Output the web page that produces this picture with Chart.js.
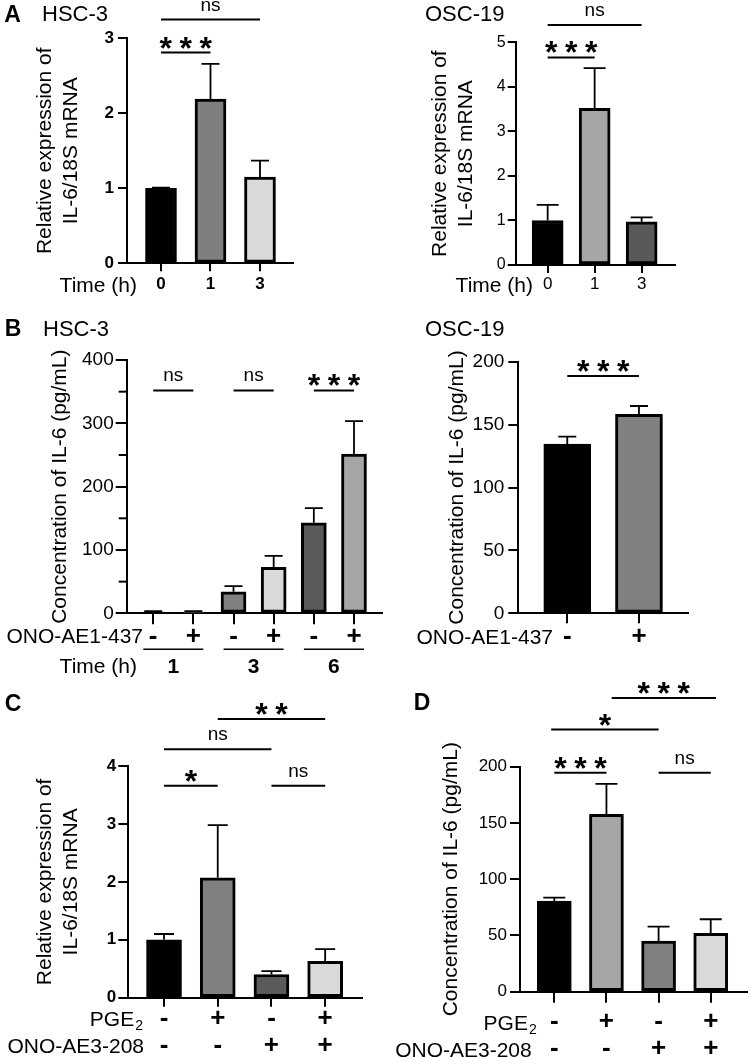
<!DOCTYPE html>
<html>
<head>
<meta charset="utf-8">
<script src="https://cdn.jsdelivr.net/npm/chart.js@4.4.0/dist/chart.umd.min.js"></script>
<style>
  html, body { margin: 0; padding: 0; background: #fff; }
  #fig { position: relative; width: 749px; height: 1057px; overflow: hidden; }
  #fig canvas { position: absolute; left: 0; top: 0; }
</style>
</head>
<body>
<div id="fig"></div>
<script>
// ---- data ----
// A: IL-6 mRNA after PGE2, time course
const timeLabelsA = ['0', '1', '3'];
const hscMrnaMean = [1.0, 2.19, 1.15];
const hscMrnaSd = [0.01, 0.47, 0.22];
const oscMrnaMean = [1.0, 3.52, 0.97];
const oscMrnaSd = [0.35, 0.9, 0.1];

// B: IL-6 protein with / without ONO-AE1-437
const ono437Labels = ['-', '+', '-', '+', '-', '+'];
const timeGroupsB = ['1', '3', '6'];
const hscElisaMean = [2, 2, 34, 72.6, 143, 251.6];
const hscElisaSd = [1.5, 1.5, 9, 18, 23, 52];
const oscOnoLabels = ['-', '+'];
const oscElisaMean = [134.6, 158.2];
const oscElisaSd = [5.8, 6.6];

// C, D: PGE2 / ONO-AE3-208
const pgeRow = ['-', '+', '-', '+'];
const ono208Row = ['-', '-', '+', '+'];
const cMrnaMean = [1.0, 2.07, 0.40, 0.63];
const cMrnaSd = [0.10, 0.91, 0.06, 0.21];
const dElisaMean = [80.6, 157.7, 45.1, 51.9];
const dElisaSd = [3, 27, 12.7, 12.5];

// significance brackets: [from bar, to bar, y value, label]
const sigAHsc = [[0, 2, 3.25, 'ns'], [0, 1, 2.81, '***']];
const sigAOsc = [[0, 2, 5.39, 'ns'], [0, 1, 4.66, '***']];
const sigBHsc = [[0, 1, 352, 'ns'], [2, 3, 352, 'ns'], [4, 5, 352, '***']];
const sigBOsc = [[0, 1, 188.6, '***']];
const sigC = [[0, 1, 3.66, '*'], [2, 3, 3.66, 'ns'], [0, 2, 4.29, 'ns'], [1, 3, 4.81, '**']];
const sigD = [[0, 1, 194.7, '***'], [2, 3, 194.7, 'ns'], [-0.06, 2, 233, '*'], [1.1, 3.1, 261, '***']];

const W = 749, H = 1057;
const FONT = '"Liberation Sans", Arial, sans-serif';
Chart.defaults.font.family = FONT;
Chart.defaults.color = '#000';

const extras = {
  id: 'extras',
  afterDatasetsDraw(chart, args, o) {
    const { ctx, scales: { y } } = chart;
    const ds = chart.data.datasets[0];
    ctx.save();
    ctx.strokeStyle = '#000';
    ctx.lineWidth = 1.8;
    chart.getDatasetMeta(0).data.forEach((bar, i) => {
      const top = y.getPixelForValue(ds.data[i].y + o.sd[i]);
      ctx.beginPath();
      ctx.moveTo(bar.x, bar.y);
      ctx.lineTo(bar.x, top);
      ctx.moveTo(bar.x - o.cap / 2, top);
      ctx.lineTo(bar.x + o.cap / 2, top);
      ctx.stroke();
    });
    ctx.restore();
  },
  afterDraw(chart, args, o) {
    const { ctx, chartArea, scales: { x, y } } = chart;
    ctx.save();
    ctx.fillStyle = '#000';
    ctx.strokeStyle = '#000';
    ctx.lineWidth = 2;

    (o.minor || []).forEach(v => {
      const py = y.getPixelForValue(v);
      ctx.beginPath();
      ctx.moveTo(chartArea.left - 8, py);
      ctx.lineTo(chartArea.left, py);
      ctx.stroke();
    });

    (o.sig || []).forEach(([a, b, at, label]) => {
      const py = y.getPixelForValue(at);
      const x1 = x.getPixelForValue(a), x2 = x.getPixelForValue(b);
      ctx.lineWidth = 2;
      ctx.beginPath();
      ctx.moveTo(x1, py);
      ctx.lineTo(x2, py);
      ctx.stroke();
      const cx = (x1 + x2) / 2;
      ctx.textAlign = 'center';
      if (label === 'ns') {
        ctx.font = '19px ' + FONT;
        ctx.fillText('ns', cx, py - 14 + 5);
      } else {
        ctx.font = 'bold 32px ' + FONT;
        const k = label.length;
        for (let j = 0; j < k; j++) {
          ctx.fillText('*', cx + (j - (k - 1) / 2) * 20, py - 12 + 18);
        }
      }
    });

    if (o.groups) {
      o.groups.labels.forEach((lab, g) => {
        const cx = (x.getPixelForValue(2 * g) + x.getPixelForValue(2 * g + 1)) / 2;
        ctx.lineWidth = 1.5;
        ctx.beginPath();
        ctx.moveTo(cx - 30, o.groups.lineY);
        ctx.lineTo(cx + 30, o.groups.lineY);
        ctx.stroke();
        ctx.font = 'bold 21px ' + FONT;
        ctx.textAlign = 'center';
        ctx.fillText(lab, cx, o.groups.textY);
      });
    }

    (o.texts || []).forEach(t => {
      let xx = t.x;
      if (t.sub) {
        ctx.font = '14px ' + FONT;
        const w = ctx.measureText(t.sub).width;
        ctx.textAlign = 'left';
        ctx.fillText(t.sub, t.x - w, t.y + 4);
        xx = t.x - w - 1;
      }
      ctx.font = t.font;
      ctx.textAlign = t.align || 'left';
      ctx.fillText(t.text, xx, t.y);
    });
    ctx.restore();
  }
};

function makePanel(p) {
  const canvas = document.createElement('canvas');
  canvas.width = W;
  canvas.height = H;
  document.getElementById('fig').appendChild(canvas);
  const a = p.area;
  const n = p.means.length;
  const titleLine = 21 * p.titleLh;
  return new Chart(canvas, {
    type: 'bar',
    data: {
      datasets: [{
        data: p.means.map((v, i) => ({ x: i, y: v })),
        backgroundColor: p.colors,
        borderColor: '#000',
        borderWidth: 3,
        borderSkipped: false,
        barThickness: p.barW
      }]
    },
    options: {
      responsive: false,
      animation: false,
      devicePixelRatio: 1,
      layout: { padding: { left: p.titleX - titleLine / 2, top: a.top, right: W - a.right, bottom: 0 } },
      plugins: {
        legend: { display: false },
        tooltip: { enabled: false },
        extras: { sd: p.sd, cap: p.cap, sig: p.sig, minor: p.minor, groups: p.groups, texts: p.texts }
      },
      scales: {
        x: {
          type: 'linear',
          bounds: 'data',
          offset: false,
          min: -p.xPad[0],
          max: n - 1 + p.xPad[1],
          grid: { offset: false, drawOnChartArea: false, color: '#000', lineWidth: 2, tickLength: p.xTick },
          border: { color: '#000', width: 2 },
          ticks: {
            autoSkip: false, maxRotation: 0, minRotation: 0,
            padding: p.xPadTxt,
            font: p.xFont,
            color: '#000',
            callback: (v, i) => p.labels[i]
          },
          afterBuildTicks: s => { s.ticks = p.means.map((_, i) => ({ value: i })); },
          afterFit: s => { s.height = H - a.bottom; }
        },
        y: {
          min: 0,
          max: p.yMax,
          bounds: 'data',
          grid: { drawOnChartArea: false, color: '#000', lineWidth: 2, tickLength: p.yTick },
          border: { color: '#000', width: 2 },
          ticks: { stepSize: p.yStep, padding: p.yPadTxt, font: p.yFont, color: '#000' },
          title: {
            display: true,
            text: p.yTitle,
            color: '#000',
            font: { size: 21, lineHeight: p.titleLh },
            padding: { top: 0, bottom: 0 }
          },
          afterFit: s => { s.width = a.left - (p.titleX - titleLine / 2); }
        }
      }
    },
    plugins: [extras]
  });
}

const mrnaTitle = ['Relative expression of', 'IL-6/18S mRNA'];
const elisaTitle = 'Concentration of IL-6 (pg/mL)';
const signFont = { size: 26, weight: 'bold' };

// A, HSC-3
makePanel({
  area: { left: 127, top: 38.3, right: 293, bottom: 263.3 },
  means: hscMrnaMean, sd: hscMrnaSd, labels: timeLabelsA,
  colors: ['#000000', '#7f7f7f', '#d9d9d9'],
  xPad: [0.687, 0.667], barW: 31, cap: 18,
  yMax: 3, yStep: 1, yTick: 9, yPadTxt: 4, yFont: { size: 17, weight: 'bold' },
  xTick: 8, xPadTxt: 3, xFont: { size: 17, weight: 'bold', lineHeight: 1.2 },
  yTitle: mrnaTitle, titleX: 45, titleLh: 1.27,
  sig: sigAHsc,
  texts: [
    { text: 'A', x: 12.5, y: 21.5, font: 'bold 23px ' + FONT, align: 'center' },
    { text: 'HSC-3', x: 42, y: 21, font: '22px ' + FONT },
    { text: 'Time (h)', x: 137, y: 292, font: '21px ' + FONT, align: 'right' }
  ]
});

// A, OSC-19
makePanel({
  area: { left: 515.7, top: 42.3, right: 675, bottom: 265 },
  means: oscMrnaMean, sd: oscMrnaSd, labels: timeLabelsA,
  colors: ['#000000', '#a6a6a6', '#595959'],
  xPad: [0.68, 0.71], barW: 31, cap: 22,
  yMax: 5, yStep: 1, yTick: 8, yPadTxt: 2, yFont: { size: 16 },
  xTick: 8, xPadTxt: 1.5, xFont: { size: 17, lineHeight: 1.2 },
  yTitle: mrnaTitle, titleX: 440, titleLh: 1.27,
  sig: sigAOsc,
  texts: [
    { text: 'OSC-19', x: 425, y: 21, font: '22px ' + FONT },
    { text: 'Time (h)', x: 533, y: 292, font: '21px ' + FONT, align: 'right' }
  ]
});

// B, HSC-3
makePanel({
  area: { left: 126.7, top: 360, right: 381.7, bottom: 613.3 },
  means: hscElisaMean, sd: hscElisaSd, labels: ono437Labels,
  colors: ['#000000', '#808080', '#808080', '#d9d9d9', '#5a5a5a', '#a6a6a6'],
  xPad: [0.66, 0.69], barW: 25, cap: 18,
  yMax: 400, yStep: 100, yTick: 11, yPadTxt: 2, yFont: { size: 19 },
  xTick: 11, xPadTxt: 0, xFont: { ...signFont, lineHeight: 1 },
  yTitle: elisaTitle, titleX: 60, titleLh: 1.2,
  minor: [50, 150, 250, 350],
  sig: sigBHsc,
  groups: { labels: timeGroupsB, lineY: 649.3, textY: 672.5 },
  texts: [
    { text: 'B', x: 13, y: 336, font: 'bold 23px ' + FONT, align: 'center' },
    { text: 'HSC-3', x: 43, y: 336, font: '22px ' + FONT },
    { text: 'ONO-AE1-437', x: 143, y: 642.5, font: '21px ' + FONT, align: 'right' },
    { text: 'Time (h)', x: 137, y: 672.5, font: '21px ' + FONT, align: 'right' }
  ]
});

// B, OSC-19
makePanel({
  area: { left: 518.3, top: 361.7, right: 688.3, bottom: 613.3 },
  means: oscElisaMean, sd: oscElisaSd, labels: oscOnoLabels,
  colors: ['#000000', '#808080'],
  xPad: [0.683, 0.688], barW: 47, cap: 18,
  yMax: 200, yStep: 50, yTick: 10, yPadTxt: 4, yFont: { size: 19 },
  xTick: 10, xPadTxt: 1, xFont: { ...signFont, lineHeight: 1 },
  yTitle: elisaTitle, titleX: 457, titleLh: 1.2,
  sig: sigBOsc,
  texts: [
    { text: 'OSC-19', x: 425, y: 335.6, font: '22px ' + FONT },
    { text: 'ONO-AE1-437', x: 553, y: 643.5, font: '21px ' + FONT, align: 'right' }
  ]
});

// C
makePanel({
  area: { left: 128.3, top: 766, right: 361.7, bottom: 997.7 },
  means: cMrnaMean, sd: cMrnaSd, labels: pgeRow.map((v, i) => [v, ono208Row[i]]),
  colors: ['#000000', '#808080', '#5a5a5a', '#d9d9d9'],
  xPad: [0.665, 0.68], barW: 35, cap: 20,
  yMax: 4, yStep: 1, yTick: 10, yPadTxt: 2, yFont: { size: 17, weight: 'bold' },
  xTick: 9, xPadTxt: -1.5, xFont: { ...signFont, lineHeight: 1.03 },
  yTitle: mrnaTitle, titleX: 45, titleLh: 1.27,
  sig: sigC,
  texts: [
    { text: 'C', x: 13, y: 711, font: 'bold 23px ' + FONT, align: 'center' },
    { text: 'PGE', sub: '2', x: 143, y: 1025.8, font: '21px ' + FONT, align: 'right' },
    { text: 'ONO-AE3-208', x: 144, y: 1052.5, font: '21px ' + FONT, align: 'right' }
  ]
});

// D
makePanel({
  area: { left: 520, top: 766.7, right: 746.7, bottom: 991.7 },
  means: dElisaMean, sd: dElisaSd, labels: pgeRow.map((v, i) => [v, ono208Row[i]]),
  colors: ['#000000', '#a6a6a6', '#808080', '#d9d9d9'],
  xPad: [0.658, 0.69], barW: 34, cap: 22,
  yMax: 200, yStep: 50, yTick: 10, yPadTxt: 3, yFont: { size: 17 },
  xTick: 11, xPadTxt: 5.5, xFont: { ...signFont, lineHeight: 1.05 },
  yTitle: elisaTitle, titleX: 451.7, titleLh: 1.2,
  sig: sigD,
  texts: [
    { text: 'D', x: 422, y: 710, font: 'bold 23px ' + FONT, align: 'center' },
    { text: 'PGE', sub: '2', x: 536.7, y: 1030.2, font: '21px ' + FONT, align: 'right' },
    { text: 'ONO-AE3-208', x: 531.7, y: 1057, font: '21px ' + FONT, align: 'right' }
  ]
});
</script>
</body>
</html>
